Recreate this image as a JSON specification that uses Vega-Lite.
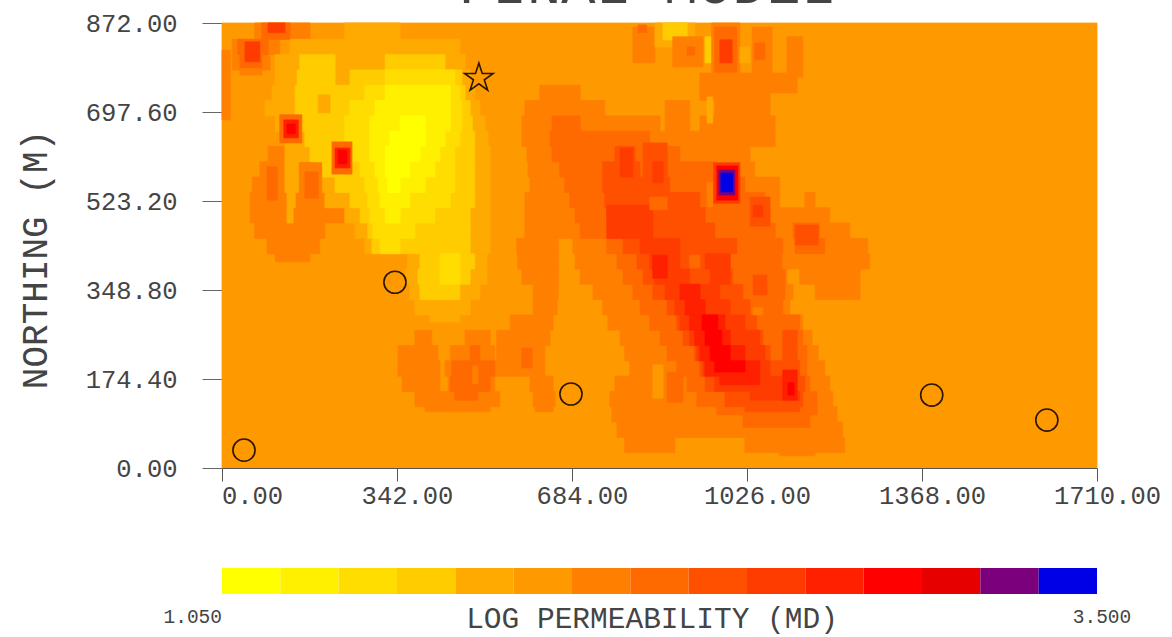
{"$schema":"https://vega.github.io/schema/vega-lite/v6.json","width":875,"height":445,"autosize":{"type":"none"},"padding":{"left":222,"top":23,"right":75,"bottom":169},"background":"white","config":{"view":{"stroke":null}},
"datasets":{"cells":[
{"x":0,"x2":1710,"y":0,"y2":872,"v":6},
{"x":0,"x2":16,"y":682,"y2":819,"v":7},
{"x":64,"x2":172,"y":840,"y2":872,"v":7},{"x":20,"x2":113,"y":810,"y2":840,"v":7},{"x":20,"x2":94,"y":780,"y2":810,"v":7},{"x":35,"x2":78,"y":770,"y2":780,"v":7},
{"x":78,"x2":133,"y":840,"y2":872,"v":8},{"x":31,"x2":90,"y":810,"y2":840,"v":8},{"x":35,"x2":78,"y":784,"y2":810,"v":8},
{"x":90,"x2":123,"y":853,"y2":872,"v":10},{"x":45,"x2":74,"y":796,"y2":835,"v":10},
{"x":90,"x2":123,"y":600,"y2":630,"v":7},{"x":74,"x2":123,"y":570,"y2":600,"v":7},{"x":152,"x2":195,"y":570,"y2":600,"v":7},{"x":59,"x2":123,"y":540,"y2":570,"v":7},{"x":152,"x2":195,"y":540,"y2":570,"v":7},{"x":55,"x2":127,"y":510,"y2":540,"v":7},{"x":143,"x2":201,"y":510,"y2":540,"v":7},{"x":55,"x2":240,"y":480,"y2":510,"v":7},{"x":64,"x2":201,"y":450,"y2":480,"v":7},{"x":88,"x2":191,"y":420,"y2":450,"v":7},{"x":104,"x2":172,"y":404,"y2":420,"v":7},
{"x":88,"x2":108,"y":525,"y2":590,"v":8},
{"x":240,"x2":348,"y":840,"y2":872,"v":5},{"x":133,"x2":465,"y":810,"y2":840,"v":5},{"x":104,"x2":475,"y":780,"y2":810,"v":5},{"x":104,"x2":485,"y":750,"y2":780,"v":5},{"x":98,"x2":494,"y":720,"y2":750,"v":5},{"x":84,"x2":504,"y":690,"y2":720,"v":5},{"x":104,"x2":514,"y":660,"y2":690,"v":5},{"x":123,"x2":520,"y":630,"y2":660,"v":5},{"x":123,"x2":524,"y":600,"y2":630,"v":5},{"x":123,"x2":149,"y":570,"y2":600,"v":5},{"x":182,"x2":524,"y":570,"y2":600,"v":5},{"x":123,"x2":149,"y":540,"y2":570,"v":5},{"x":195,"x2":524,"y":540,"y2":570,"v":5},{"x":127,"x2":143,"y":510,"y2":540,"v":5},{"x":201,"x2":524,"y":510,"y2":540,"v":5},{"x":127,"x2":139,"y":480,"y2":510,"v":5},{"x":240,"x2":524,"y":480,"y2":510,"v":5},{"x":260,"x2":524,"y":450,"y2":480,"v":5},{"x":279,"x2":524,"y":420,"y2":450,"v":5},{"x":363,"x2":518,"y":390,"y2":420,"v":5},{"x":358,"x2":518,"y":360,"y2":390,"v":5},{"x":367,"x2":504,"y":330,"y2":360,"v":5},{"x":377,"x2":485,"y":300,"y2":330,"v":5},{"x":406,"x2":465,"y":286,"y2":300,"v":5},
{"x":152,"x2":221,"y":780,"y2":810,"v":4},{"x":319,"x2":436,"y":780,"y2":810,"v":4},{"x":147,"x2":221,"y":750,"y2":780,"v":4},{"x":250,"x2":469,"y":750,"y2":780,"v":4},{"x":143,"x2":475,"y":720,"y2":750,"v":4},{"x":143,"x2":485,"y":690,"y2":720,"v":4},{"x":152,"x2":489,"y":660,"y2":690,"v":4},{"x":162,"x2":494,"y":630,"y2":660,"v":4},{"x":172,"x2":494,"y":600,"y2":630,"v":4},{"x":191,"x2":494,"y":570,"y2":600,"v":4},{"x":221,"x2":494,"y":540,"y2":570,"v":4},{"x":250,"x2":494,"y":510,"y2":540,"v":4},{"x":270,"x2":485,"y":480,"y2":510,"v":4},{"x":285,"x2":485,"y":450,"y2":480,"v":4},{"x":293,"x2":485,"y":420,"y2":450,"v":4},{"x":387,"x2":494,"y":390,"y2":420,"v":4},{"x":383,"x2":485,"y":360,"y2":390,"v":4},{"x":387,"x2":465,"y":330,"y2":360,"v":4},
{"x":188,"x2":211,"y":696,"y2":731,"v":5},
{"x":319,"x2":455,"y":750,"y2":780,"v":3},{"x":279,"x2":465,"y":720,"y2":750,"v":3},{"x":250,"x2":469,"y":690,"y2":720,"v":3},{"x":240,"x2":469,"y":660,"y2":690,"v":3},{"x":240,"x2":465,"y":630,"y2":660,"v":3},{"x":240,"x2":455,"y":600,"y2":630,"v":3},{"x":270,"x2":455,"y":570,"y2":600,"v":3},{"x":279,"x2":455,"y":540,"y2":570,"v":3},{"x":285,"x2":446,"y":510,"y2":540,"v":3},{"x":289,"x2":416,"y":480,"y2":510,"v":3},{"x":295,"x2":377,"y":450,"y2":480,"v":3},{"x":309,"x2":348,"y":420,"y2":450,"v":3},{"x":426,"x2":465,"y":360,"y2":420,"v":3},
{"x":319,"x2":446,"y":720,"y2":750,"v":2},{"x":299,"x2":446,"y":690,"y2":720,"v":2},{"x":289,"x2":446,"y":660,"y2":690,"v":2},{"x":289,"x2":436,"y":630,"y2":660,"v":2},{"x":289,"x2":426,"y":600,"y2":630,"v":2},{"x":299,"x2":416,"y":570,"y2":600,"v":2},{"x":305,"x2":397,"y":540,"y2":570,"v":2},{"x":309,"x2":367,"y":510,"y2":540,"v":2},{"x":319,"x2":348,"y":480,"y2":510,"v":2},
{"x":348,"x2":397,"y":660,"y2":690,"v":1},{"x":328,"x2":397,"y":630,"y2":660,"v":1},{"x":319,"x2":387,"y":600,"y2":630,"v":1},{"x":319,"x2":367,"y":570,"y2":600,"v":1},{"x":324,"x2":348,"y":540,"y2":570,"v":1},
{"x":113,"x2":156,"y":637,"y2":692,"v":8},{"x":121,"x2":149,"y":647,"y2":682,"v":11},{"x":127,"x2":143,"y":655,"y2":674,"v":12},
{"x":215,"x2":254,"y":576,"y2":639,"v":8},{"x":221,"x2":250,"y":588,"y2":627,"v":11},{"x":227,"x2":244,"y":596,"y2":623,"v":12},
{"x":152,"x2":195,"y":514,"y2":598,"v":7},{"x":162,"x2":188,"y":529,"y2":580,"v":8},
{"x":377,"x2":410,"y":240,"y2":270,"v":7},{"x":475,"x2":524,"y":240,"y2":270,"v":7},{"x":344,"x2":422,"y":210,"y2":240,"v":7},{"x":446,"x2":533,"y":210,"y2":240,"v":7},{"x":344,"x2":426,"y":180,"y2":210,"v":7},{"x":436,"x2":537,"y":180,"y2":210,"v":7},{"x":352,"x2":426,"y":150,"y2":180,"v":7},{"x":442,"x2":533,"y":150,"y2":180,"v":7},{"x":377,"x2":543,"y":120,"y2":150,"v":7},{"x":397,"x2":524,"y":110,"y2":120,"v":7},
{"x":485,"x2":504,"y":210,"y2":240,"v":8},{"x":449,"x2":533,"y":180,"y2":210,"v":8},{"x":446,"x2":524,"y":150,"y2":180,"v":8},{"x":455,"x2":500,"y":133,"y2":150,"v":8},{"x":490,"x2":500,"y":165,"y2":200,"v":7},
{"x":803,"x2":846,"y":794,"y2":864,"v":7},{"x":813,"x2":830,"y":853,"y2":868,"v":8},
{"x":846,"x2":924,"y":825,"y2":872,"v":5},{"x":862,"x2":909,"y":839,"y2":872,"v":4},
{"x":881,"x2":940,"y":786,"y2":845,"v":7},{"x":909,"x2":924,"y":809,"y2":825,"v":8},
{"x":944,"x2":959,"y":794,"y2":845,"v":4},
{"x":957,"x2":1012,"y":770,"y2":872,"v":7},{"x":963,"x2":1006,"y":774,"y2":864,"v":8},{"x":973,"x2":997,"y":794,"y2":839,"v":10},
{"x":1012,"x2":1032,"y":794,"y2":825,"v":5},
{"x":1036,"x2":1075,"y":774,"y2":864,"v":7},{"x":1041,"x2":1061,"y":800,"y2":833,"v":8},
{"x":1104,"x2":1135,"y":766,"y2":845,"v":7},{"x":934,"x2":1124,"y":735,"y2":774,"v":7},
{"x":621,"x2":700,"y":720,"y2":750,"v":7},{"x":934,"x2":1071,"y":720,"y2":750,"v":7},
{"x":592,"x2":748,"y":690,"y2":720,"v":7},{"x":866,"x2":914,"y":690,"y2":720,"v":7},{"x":963,"x2":1071,"y":690,"y2":720,"v":7},
{"x":586,"x2":856,"y":660,"y2":690,"v":7},{"x":866,"x2":914,"y":660,"y2":690,"v":7},{"x":934,"x2":1081,"y":660,"y2":690,"v":7},
{"x":586,"x2":1081,"y":630,"y2":660,"v":7},{"x":596,"x2":1032,"y":600,"y2":630,"v":7},{"x":598,"x2":1041,"y":570,"y2":600,"v":7},{"x":602,"x2":1090,"y":540,"y2":570,"v":7},
{"x":592,"x2":1090,"y":510,"y2":540,"v":7},{"x":1139,"x2":1159,"y":510,"y2":540,"v":7},{"x":592,"x2":1188,"y":480,"y2":510,"v":7},{"x":592,"x2":1227,"y":450,"y2":480,"v":7},
{"x":576,"x2":657,"y":420,"y2":450,"v":7},{"x":686,"x2":1262,"y":420,"y2":450,"v":7},{"x":578,"x2":657,"y":390,"y2":420,"v":7},{"x":690,"x2":1266,"y":390,"y2":420,"v":7},
{"x":586,"x2":657,"y":360,"y2":390,"v":7},{"x":700,"x2":1104,"y":360,"y2":390,"v":7},{"x":1129,"x2":1247,"y":360,"y2":390,"v":7},
{"x":608,"x2":657,"y":330,"y2":360,"v":7},{"x":725,"x2":1116,"y":330,"y2":360,"v":7},{"x":1159,"x2":1247,"y":330,"y2":360,"v":7},
{"x":608,"x2":655,"y":300,"y2":330,"v":7},{"x":744,"x2":1110,"y":300,"y2":330,"v":7},
{"x":563,"x2":647,"y":270,"y2":300,"v":7},{"x":754,"x2":1135,"y":270,"y2":300,"v":7},
{"x":537,"x2":641,"y":240,"y2":270,"v":7},{"x":778,"x2":1153,"y":240,"y2":270,"v":7},
{"x":537,"x2":631,"y":210,"y2":240,"v":7},{"x":787,"x2":1165,"y":210,"y2":240,"v":7},
{"x":537,"x2":631,"y":180,"y2":210,"v":7},{"x":797,"x2":1178,"y":180,"y2":210,"v":7},
{"x":602,"x2":647,"y":150,"y2":180,"v":7},{"x":768,"x2":1188,"y":150,"y2":180,"v":7},
{"x":608,"x2":651,"y":120,"y2":150,"v":7},{"x":758,"x2":1194,"y":120,"y2":150,"v":7},
{"x":612,"x2":647,"y":110,"y2":120,"v":7},{"x":762,"x2":1202,"y":90,"y2":120,"v":7},
{"x":772,"x2":1213,"y":60,"y2":90,"v":7},{"x":787,"x2":885,"y":30,"y2":60,"v":7},{"x":1022,"x2":1217,"y":30,"y2":60,"v":7},{"x":1090,"x2":1159,"y":24,"y2":30,"v":7},
{"x":842,"x2":862,"y":137,"y2":202,"v":6},{"x":948,"x2":959,"y":676,"y2":727,"v":5},
{"x":645,"x2":700,"y":660,"y2":690,"v":8},{"x":641,"x2":836,"y":630,"y2":660,"v":8},{"x":645,"x2":895,"y":600,"y2":630,"v":8},{"x":660,"x2":963,"y":570,"y2":600,"v":8},{"x":670,"x2":1022,"y":540,"y2":570,"v":8},{"x":680,"x2":1061,"y":510,"y2":540,"v":8},{"x":690,"x2":1071,"y":480,"y2":510,"v":8},{"x":700,"x2":1081,"y":450,"y2":480,"v":8},{"x":1116,"x2":1168,"y":450,"y2":480,"v":8},{"x":752,"x2":1096,"y":420,"y2":450,"v":8},{"x":1120,"x2":1178,"y":420,"y2":450,"v":8},{"x":772,"x2":1094,"y":390,"y2":420,"v":8},{"x":784,"x2":1100,"y":360,"y2":390,"v":8},{"x":803,"x2":1100,"y":330,"y2":360,"v":8},{"x":817,"x2":1096,"y":300,"y2":330,"v":8},{"x":836,"x2":1129,"y":270,"y2":300,"v":8},{"x":856,"x2":1135,"y":240,"y2":270,"v":8},{"x":870,"x2":1143,"y":210,"y2":240,"v":8},{"x":889,"x2":1143,"y":180,"y2":210,"v":8},{"x":909,"x2":1149,"y":150,"y2":180,"v":8},{"x":928,"x2":1163,"y":120,"y2":150,"v":8},{"x":967,"x2":1163,"y":104,"y2":120,"v":8},{"x":1018,"x2":1149,"y":80,"y2":104,"v":8},
{"x":870,"x2":901,"y":129,"y2":188,"v":8},{"x":586,"x2":606,"y":196,"y2":235,"v":8},{"x":948,"x2":959,"y":512,"y2":559,"v":7},
{"x":768,"x2":807,"y":600,"y2":630,"v":9},{"x":836,"x2":866,"y":600,"y2":630,"v":9},{"x":744,"x2":817,"y":570,"y2":600,"v":9},{"x":832,"x2":866,"y":570,"y2":600,"v":9},{"x":744,"x2":875,"y":540,"y2":570,"v":9},{"x":748,"x2":934,"y":510,"y2":540,"v":9},{"x":752,"x2":944,"y":480,"y2":510,"v":9},{"x":758,"x2":963,"y":450,"y2":480,"v":9},{"x":784,"x2":1006,"y":420,"y2":450,"v":9},{"x":811,"x2":993,"y":390,"y2":420,"v":9},{"x":823,"x2":998,"y":360,"y2":390,"v":9},{"x":842,"x2":1018,"y":330,"y2":360,"v":9},{"x":870,"x2":1032,"y":300,"y2":330,"v":9},{"x":889,"x2":1045,"y":270,"y2":300,"v":9},{"x":901,"x2":1057,"y":240,"y2":270,"v":9},{"x":1096,"x2":1124,"y":240,"y2":270,"v":9},{"x":924,"x2":1071,"y":210,"y2":240,"v":9},{"x":1096,"x2":1124,"y":210,"y2":240,"v":9},{"x":934,"x2":1129,"y":180,"y2":210,"v":9},{"x":944,"x2":1139,"y":150,"y2":180,"v":9},{"x":983,"x2":1135,"y":120,"y2":150,"v":9},{"x":1022,"x2":1129,"y":110,"y2":120,"v":9},
{"x":1038,"x2":1065,"y":339,"y2":378,"v":9},{"x":1032,"x2":1071,"y":474,"y2":531,"v":9},{"x":1120,"x2":1165,"y":437,"y2":476,"v":9},{"x":823,"x2":870,"y":559,"y2":637,"v":9},
{"x":842,"x2":862,"y":559,"y2":600,"v":10},{"x":778,"x2":803,"y":570,"y2":627,"v":10},{"x":752,"x2":842,"y":450,"y2":515,"v":10},
{"x":817,"x2":895,"y":420,"y2":450,"v":10},{"x":836,"x2":895,"y":390,"y2":420,"v":10},{"x":944,"x2":993,"y":390,"y2":420,"v":10},{"x":846,"x2":914,"y":360,"y2":390,"v":10},{"x":954,"x2":993,"y":360,"y2":390,"v":10},{"x":866,"x2":973,"y":330,"y2":360,"v":10},{"x":885,"x2":993,"y":300,"y2":330,"v":10},{"x":895,"x2":1022,"y":270,"y2":300,"v":10},{"x":914,"x2":1051,"y":240,"y2":270,"v":10},{"x":928,"x2":1061,"y":210,"y2":240,"v":10},{"x":940,"x2":1071,"y":180,"y2":210,"v":10},{"x":963,"x2":1120,"y":150,"y2":180,"v":10},{"x":1032,"x2":1129,"y":133,"y2":150,"v":10},{"x":1038,"x2":1057,"y":492,"y2":515,"v":10},
{"x":914,"x2":934,"y":392,"y2":417,"v":8},{"x":836,"x2":870,"y":506,"y2":531,"v":8},{"x":1038,"x2":1057,"y":300,"y2":314,"v":7},
{"x":842,"x2":870,"y":372,"y2":417,"v":11},{"x":895,"x2":934,"y":330,"y2":360,"v":11},{"x":905,"x2":944,"y":300,"y2":330,"v":11},{"x":914,"x2":983,"y":270,"y2":300,"v":11},{"x":924,"x2":993,"y":240,"y2":270,"v":11},{"x":934,"x2":1022,"y":210,"y2":240,"v":11},{"x":944,"x2":1051,"y":180,"y2":210,"v":11},{"x":973,"x2":1051,"y":163,"y2":180,"v":11},{"x":1096,"x2":1124,"y":133,"y2":192,"v":11},
{"x":938,"x2":969,"y":270,"y2":300,"v":12},{"x":944,"x2":977,"y":240,"y2":270,"v":12},{"x":954,"x2":993,"y":210,"y2":240,"v":12},{"x":963,"x2":1022,"y":188,"y2":210,"v":12},{"x":1106,"x2":1118,"y":143,"y2":167,"v":12},
{"x":961,"x2":1012,"y":519,"y2":598,"v":10},{"x":967,"x2":1008,"y":525,"y2":592,"v":12},{"x":971,"x2":1002,"y":535,"y2":584,"v":14},{"x":975,"x2":998,"y":541,"y2":578,"v":15}
],
"wells":[{"x":338,"y":364},{"x":43,"y":35},{"x":682,"y":145},{"x":1387,"y":143},{"x":1612,"y":94}],
"star":[{"x":502,"y":764}],
"bar":[{"lo":1.05,"hi":1.2133,"a":0,"b":1,"v":1},{"lo":1.2133,"hi":1.3767,"a":0,"b":1,"v":2},{"lo":1.3767,"hi":1.54,"a":0,"b":1,"v":3},{"lo":1.54,"hi":1.7033,"a":0,"b":1,"v":4},{"lo":1.7033,"hi":1.8667,"a":0,"b":1,"v":5},{"lo":1.8667,"hi":2.03,"a":0,"b":1,"v":6},{"lo":2.03,"hi":2.1933,"a":0,"b":1,"v":7},{"lo":2.1933,"hi":2.3567,"a":0,"b":1,"v":8},{"lo":2.3567,"hi":2.52,"a":0,"b":1,"v":9},{"lo":2.52,"hi":2.6833,"a":0,"b":1,"v":10},{"lo":2.6833,"hi":2.8467,"a":0,"b":1,"v":11},{"lo":2.8467,"hi":3.01,"a":0,"b":1,"v":12},{"lo":3.01,"hi":3.1733,"a":0,"b":1,"v":13},{"lo":3.1733,"hi":3.3367,"a":0,"b":1,"v":14},{"lo":3.3367,"hi":3.5,"a":0,"b":1,"v":15}]},
"resolve":{"scale":{"x":"independent","y":"independent"}},
"layer":[
{"data":{"name":"cells"},"mark":{"type":"rect","strokeWidth":0.8,"tooltip":false},
"encoding":{
"x":{"field":"x","type":"quantitative","scale":{"domain":[0,1710],"nice":false,"zero":false},
"axis":{"title":null,"grid":false,"values":[0,342,684,1026,1368,1710],"format":".2f","tickSize":13,"tickColor":"#555555","domainColor":"#555555","zindex":1,"labelFont":"Liberation Mono","labelFontSize":25.5,"labelColor":"#444444","labelPadding":2,"labelFlush":false,"labelOverlap":false,"labelOffset":{"expr":"datum.value==0?30:10"}}},
"x2":{"field":"x2"},
"y":{"field":"y","type":"quantitative","scale":{"domain":[0,872],"nice":false,"zero":false},
"axis":{"title":"NORTHING (M)","grid":false,"domain":false,"values":[0,174.4,348.8,523.2,697.6,872],"format":".2f","tickSize":20,"tickColor":"#666666","labelFont":"Liberation Mono","labelFontSize":25.5,"labelColor":"#444444","labelPadding":25,"labelFlush":false,"labelOverlap":false,"titleFont":"Liberation Mono","titleFontSize":36,"titleFontWeight":"normal","titleColor":"#444444","titleX":-176,"titleY":236,"titleAngle":-90,"titleAlign":"center","titleBaseline":"alphabetic"}},
"y2":{"field":"y2"},
"color":{"field":"v","type":"ordinal","legend":null,"scale":{"domain":[1,2,3,4,5,6,7,8,9,10,11,12,13,14,15],"range":["#FFFF00","#FFF000","#FFDD00","#FFCC00","#FFAA00","#FF9900","#FF8000","#FF6A00","#FF5000","#FF3C00","#FF2000","#FF0000","#E60000","#7B007B","#0000E6"]}},
"stroke":{"field":"v","type":"ordinal","legend":null,"scale":{"domain":[1,2,3,4,5,6,7,8,9,10,11,12,13,14,15],"range":["#FFFF00","#FFF000","#FFDD00","#FFCC00","#FFAA00","#FF9900","#FF8000","#FF6A00","#FF5000","#FF3C00","#FF2000","#FF0000","#E60000","#7B007B","#0000E6"]}}}},
{"data":{"name":"wells"},"mark":{"type":"point","shape":"circle","filled":false,"stroke":"#2a1500","strokeWidth":1.6,"size":490,"opacity":1},
"encoding":{"x":{"field":"x","type":"quantitative","axis":null,"scale":{"domain":[0,1710],"nice":false,"zero":false}},"y":{"field":"y","type":"quantitative","axis":null,"scale":{"domain":[0,872],"nice":false,"zero":false}}}},
{"data":{"name":"star"},"mark":{"type":"point","shape":"M0,-1L0.2245,-0.309L0.951,-0.309L0.363,0.118L0.588,0.809L0,0.382L-0.588,0.809L-0.363,0.118L-0.951,-0.309L-0.2245,-0.309Z","filled":false,"stroke":"#2a1500","strokeWidth":1.6,"size":900,"opacity":1},
"encoding":{"x":{"field":"x","type":"quantitative","axis":null,"scale":{"domain":[0,1710],"nice":false,"zero":false}},"y":{"field":"y","type":"quantitative","axis":null,"scale":{"domain":[0,872],"nice":false,"zero":false}}}},
{"data":{"values":[{"x":830,"y":911,"t":"FINAL MODEL"}]},"mark":{"type":"text","font":"Liberation Mono","fontSize":57,"color":"#444444","align":"center","baseline":"alphabetic","clip":false},
"encoding":{"x":{"field":"x","type":"quantitative","axis":null,"scale":{"domain":[0,1710],"nice":false,"zero":false}},"y":{"field":"y","type":"quantitative","axis":null,"scale":{"domain":[0,872],"nice":false,"zero":false}},"text":{"field":"t"}}},
{"data":{"name":"bar"},"mark":{"type":"rect"},
"encoding":{"x":{"field":"lo","type":"quantitative","axis":null,"scale":{"domain":[1.05,3.5],"nice":false,"zero":false}},"x2":{"field":"hi"},"y":{"field":"a","type":"quantitative","axis":null,"scale":{"domain":[0,1],"range":[571,545],"nice":false,"zero":false}},"y2":{"field":"b"},"color":{"field":"v","type":"ordinal","legend":null}}},
{"data":{"values":[{"x":2.254,"y":-1.3,"t":"LOG PERMEABILITY (MD)"}]},"mark":{"type":"text","font":"Liberation Mono","fontSize":29.5,"color":"#444444","align":"center","baseline":"alphabetic"},
"encoding":{"x":{"field":"x","type":"quantitative","axis":null,"scale":{"domain":[1.05,3.5],"nice":false,"zero":false}},"y":{"field":"y","type":"quantitative","axis":null,"scale":{"domain":[0,1],"range":[571,545],"nice":false,"zero":false}},"text":{"field":"t"}}},
{"data":{"values":[{"x":1.05,"y":-1.1,"t":"1.050"}]},"mark":{"type":"text","font":"Liberation Mono","fontSize":19.5,"color":"#444444","align":"right","baseline":"alphabetic"},
"encoding":{"x":{"field":"x","type":"quantitative","axis":null,"scale":{"domain":[1.05,3.5],"nice":false,"zero":false}},"y":{"field":"y","type":"quantitative","axis":null,"scale":{"domain":[0,1],"range":[571,545],"nice":false,"zero":false}},"text":{"field":"t"}}},
{"data":{"values":[{"x":3.5,"y":-1.1,"t":"3.500"}]},"mark":{"type":"text","font":"Liberation Mono","fontSize":19.5,"color":"#444444","align":"center","dx":5,"baseline":"alphabetic"},
"encoding":{"x":{"field":"x","type":"quantitative","axis":null,"scale":{"domain":[1.05,3.5],"nice":false,"zero":false}},"y":{"field":"y","type":"quantitative","axis":null,"scale":{"domain":[0,1],"range":[571,545],"nice":false,"zero":false}},"text":{"field":"t"}}}
]}
